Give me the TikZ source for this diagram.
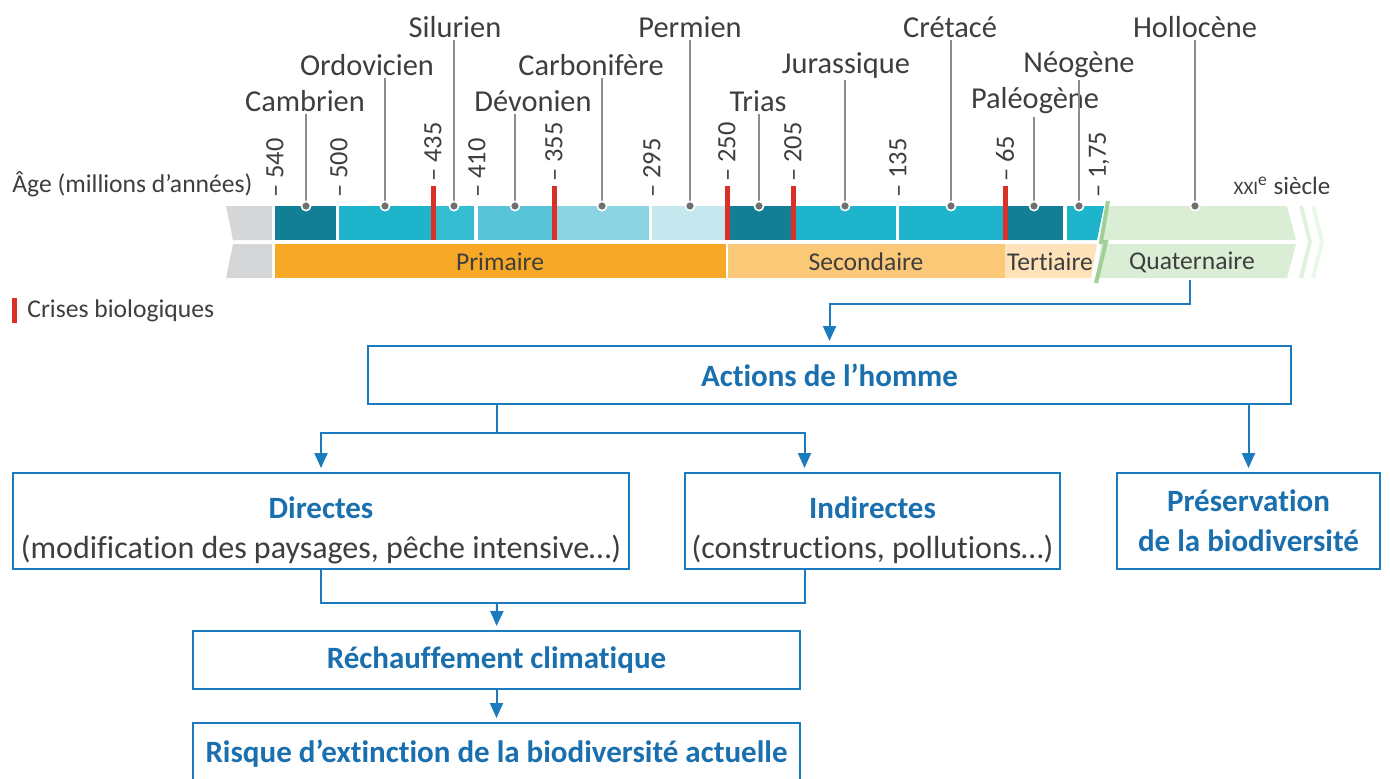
\documentclass[tikz,border=0pt]{standalone}
\usepackage{fontspec}
\setmainfont{Carlito}[Ligatures={NoCommon}]
\usetikzlibrary{positioning,arrows.meta,calc}
\definecolor{boxblue}{RGB}{27,123,191}
\definecolor{txtblue}{RGB}{26,111,174}
\definecolor{ink}{RGB}{62,62,62}
\definecolor{tealD}{RGB}{18,127,151}
\definecolor{tealC}{RGB}{30,180,204}
\definecolor{tealS}{RGB}{52,188,209}
\definecolor{tealV}{RGB}{88,196,216}
\definecolor{tealK}{RGB}{140,212,226}
\definecolor{tealP}{RGB}{196,232,238}
\definecolor{primo}{RGB}{247,168,38}
\definecolor{secondo}{RGB}{251,200,120}
\definecolor{tertio}{RGB}{253,226,186}
\definecolor{quarto}{RGB}{218,238,214}
\definecolor{quartoD}{RGB}{160,208,152}
\definecolor{tail}{RGB}{212,214,216}
\definecolor{crise}{RGB}{217,49,42}
\definecolor{pin}{RGB}{140,140,140}
\newcommand{\txt}{\fontsize{16}{20}\selectfont}
\newcommand{\lab}{\fontsize{15.2}{18}\selectfont}
\newcommand{\sml}{\fontsize{12.8}{15}\selectfont}
\newcommand{\hd}[1]{\textcolor{txtblue}{\fontsize{15.5}{20}\selectfont\bfseries #1}}
\newcommand{\up}{\rule{0pt}{20pt}}
\tikzset{
  era/.style  ={font=\lab,text=ink,inner sep=1pt},
  age/.style  ={font=\fontsize{13.2}{15}\selectfont,text=ink,inner sep=0pt,
                rotate=90,anchor=west},
  band/.style ={font=\sml,text=ink,inner sep=0pt},
  pinl/.style ={draw=pin,line width=0.6pt},
  box/.style  ={draw=boxblue,line width=1pt,rectangle,fill=white,
                align=center,inner sep=0pt,font=\txt,text=ink},
  flow/.style ={-{Triangle[width=6.5pt,length=7.5pt]},draw=boxblue,
                line width=1pt,shorten >=2pt},
  wire/.style ={draw=boxblue,line width=1pt}
}

\begin{document}
\begin{tikzpicture}[x=0.5pt,y=-0.5pt]
\useasboundingbox (0,0) rectangle (1390,778);

% grey start of the scale
\fill[tail] (226,206) -- (272,206) -- (272,240) -- (233,240) -- cycle;
\fill[tail] (233,244) -- (272,244) -- (272,278) -- (226,278) -- cycle;

% periods
\foreach \a/\b/\c in {275/336/tealD, 339/433/tealC, 433/474/tealS,
    478/554/tealV, 554/649/tealK, 652/727/tealP, 727/793/tealD,
    793/896/tealC, 899/1005/tealC, 1005/1063/tealD}
  \fill[\c] (\a,206) rectangle (\b,240);
\fill[tealC] (1067,206) -- (1104,206) -- (1097,240) -- (1067,240) -- cycle;

% eras
\fill[primo]   (275,244) rectangle (727,278);
\fill[secondo] (727,244) rectangle (1005,278);
\fill[tertio]  (1005,244) -- (1097,244) -- (1091,278) -- (1005,278) -- cycle;
\draw[white,line width=0.8pt] (727,244) -- (727,278);

% quaternaire
\fill[quarto] (1108,206) -- (1287,206) -- (1296,240) -- (1101,240) -- cycle;
\fill[quarto] (1101,244) -- (1296,244) -- (1287,278) -- (1096,278) -- cycle;
\draw[quarto!80,line width=2pt] (1301,206) -- (1310,242) -- (1301,278);
\draw[quarto!50,line width=2pt] (1313,206) -- (1322,242) -- (1313,278);
\draw[quartoD,line width=2pt] (1108,201) -- (1101,242) -- (1106,242) -- (1096,283);

% crises
\foreach \x in {433,554,727,793,1005}
  \fill[crise] (\x-2.5,186) rectangle (\x+2.5,240);

% period names
\foreach \n/\t/\lx/\ly/\px in {cam/Cambrien/305/101/306,
    ord/Ordovicien/367/65/385, sil/Silurien/455/27/454,
    dev/Dévonien/533/101/515, car/Carbonifère/591/65/602,
    per/Permien/690/27/690, tri/Trias/758/101/759,
    jur/Jurassique/846/65/845, cre/Crétacé/950/27/951,
    pal/Paléogène/1035/101/1034, neo/Néogène/1079/65/1079,
    hol/Hollocène/1195/27/1195}{
  \node[era] (\n) at (\lx,\ly) {\t};
  \coordinate (\n-pt) at (\px,206);
  \draw[pinl] (\n.south -| \n-pt) -- (\n-pt);
  \fill[pin!80!black,draw=white,line width=0.8pt] (\n-pt) circle[radius=2.3pt];
}

% ages
\foreach \x/\v/\y [count=\i] in {275/540/198, 339/500/198, 433/435/182,
    477/410/198, 554/355/182, 652/295/198, 727/250/182, 793/205/182,
    898/135/198, 1005/65/182, 1099/{1,75}/198}
  \node[age] (age\i) at (\x,\y) {-- \v};

\node[era,font=\sml,anchor=west] (agel) at (10,184) {Âge (millions d'années)};
\node[era,font=\fontsize{12.5}{14}\selectfont] (xxi) at (1282,186)
  {{\fontsize{9.5}{10}\selectfont XXI}\textsuperscript{e} siècle};

\node[band] (prim) at (500,262) {Primaire};
\node[band] (sec)  at (866,262) {Secondaire};
\node[band] (ter)  at (1050,262) {Tertiaire};
\node[band] (qua)  at (1192,262) {Quaternaire};
\coordinate (qend) at (1190,280);

\fill[crise] (12,298) rectangle (17,323);
\node[era,font=\sml,anchor=west] (crl) at (25,311) {Crises biologiques};

% boxes
\node[box,minimum width=461.5pt,minimum height=29pt] (act) at (829.5,375)
  {\hd{Actions de l’homme}};
\node[box,minimum width=308pt,minimum height=48pt] (dir) at (321,521)
  {\up\hd{Directes}\\(modification des paysages, pêche intensive…)};
\node[box,minimum width=187.5pt,minimum height=48pt] (ind) at (872.5,521)
  {\up\hd{Indirectes}\\(constructions, pollutions…)};
\node[box,minimum width=131.5pt,minimum height=48pt] (pres) at (1248.5,521)
  {\hd{Préservation}\\\hd{de la biodiversité}};
\node[box,minimum width=303.5pt,minimum height=29pt] (rech) at (496.5,660)
  {\hd{Réchauffement climatique}};
\node[box,minimum width=303.5pt,minimum height=31pt] (risq) at (496.5,754)
  {\hd{Risque d’extinction de la biodiversité actuelle}};

% links
\draw[flow] (qend) -- ++(0,24) -| (act.north);

\coordinate (split) at (497,433);
\coordinate (indin) at ($(ind.north)+(-68,0)$);
\coordinate (indout) at ($(ind.south)+(-68,0)$);
\draw[wire] (act.south -| split) -- (split);
\draw[flow] (split) -| (dir.north);
\draw[flow] (split) -| (indin);
\draw[flow] (act.south -| pres.north) -- (pres.north);

\coordinate (join) at (497,603);
\draw[wire] (dir.south) |- (join) -| (indout);
\draw[flow] (join) -- (rech.north);
\draw[flow] (rech.south) -- (risq.north);

\end{tikzpicture}
\end{document}
